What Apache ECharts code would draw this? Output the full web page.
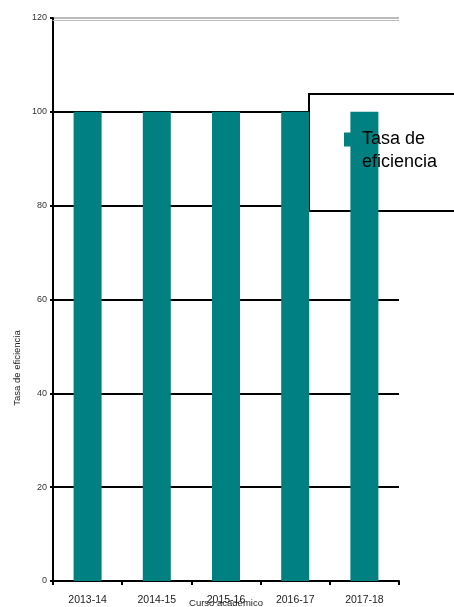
<!DOCTYPE html>
<html><head><meta charset="utf-8">
<script src="https://cdn.jsdelivr.net/npm/echarts@6/dist/echarts.min.js"></script>
<style>html,body{margin:0;padding:0;background:#fff}#c{width:454px;height:607px}</style>
</head><body><div id="c"></div>
<script>
const categories = ['2013-14','2014-15','2015-16','2016-17','2017-18'];
const tasaEficiencia = [100,100,100,100,100];
const seriesName = 'Tasa de eficiencia';
const legendLines = ['Tasa de','eficiencia'];
const xName = 'Curso académico';
const yName = 'Tasa de eficiencia';

const chart = echarts.init(document.getElementById('c'), null, {renderer:'canvas'});
const font = 'Liberation Sans, Arial, sans-serif';
chart.setOption({
  animation:false,
  backgroundColor:'#fff',
  textStyle:{fontFamily:font},
  grid:{left:53,right:55,top:18,bottom:26,outerBoundsMode:'none',containLabel:false},
  legend:{
    data:[seriesName], left:339, top:100, icon:'rect', itemWidth:10, itemHeight:14, itemGap:0,
    formatter:()=> '{p|}\n' + legendLines.map(s=>'{t|'+s+'}').join('\n'),
    textStyle:{fontSize:18,color:'#000',fontFamily:font,lineHeight:23,
      rich:{p:{lineHeight:23,fontSize:18},t:{fontSize:18,lineHeight:23,padding:[0,0,0,3],color:'#000',fontFamily:font}}}
  },
  graphic:[
    {type:'rect', z:1, shape:{x:309,y:94,width:160,height:117}, style:{fill:'#fff',stroke:'#000',lineWidth:2}},
    {type:'text', z:5, x:17, y:368, rotation:Math.PI/2,
     style:{text:yName, fontSize:9.5, fill:'#222', fontFamily:font, align:'center', verticalAlign:'middle'}}
  ],
  xAxis:[{
    type:'category', data:categories, position:'bottom',
    name:xName, nameLocation:'middle', nameGap:17, nameMoveOverlap:false,
    nameTextStyle:{fontSize:9.5,color:'#222'},
    axisLine:{lineStyle:{color:'#000',width:2}},
    axisTick:{show:true,alignWithLabel:false,length:4,lineStyle:{color:'#000',width:2}},
    axisLabel:{fontSize:10.5,color:'#222',margin:14}
  },{
    type:'category', data:categories, position:'top', offset:-2,
    axisLine:{lineStyle:{color:'#bbb',width:1}}, axisTick:{show:false}, axisLabel:{show:false}
  }],
  yAxis:{
    type:'value', min:0, max:120, interval:20,
    axisLine:{show:true,lineStyle:{color:'#000',width:2}},
    axisTick:{show:true,length:3,lineStyle:{color:'#000',width:2}},
    axisLabel:{fontSize:9,color:'#333',margin:6},
    splitLine:{show:true,lineStyle:{color:['#000','#000','#000','#000','#000','#000','#bbb'],width:[2]}}
  },
  series:[{
    name:seriesName, type:'bar', data:tasaEficiencia, barWidth:28, z:2,
    itemStyle:{color:'#008080'}
  }]
});
</script></body></html>
